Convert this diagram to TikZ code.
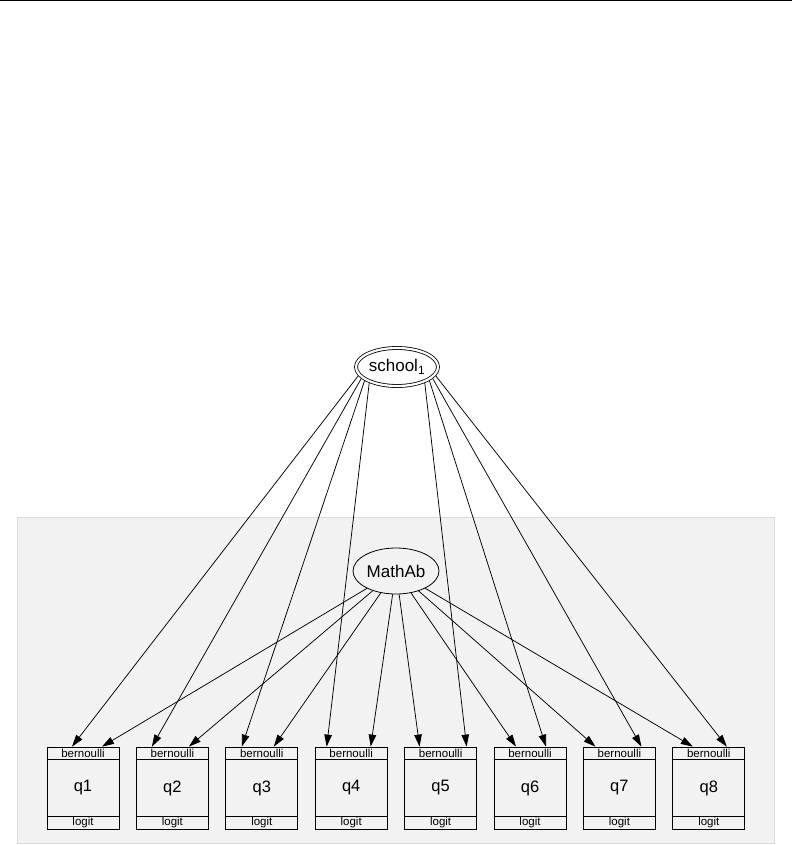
\documentclass[tikz,border=0pt]{standalone}
\usepackage{fontspec}
\setmainfont{Liberation Sans}
\usetikzlibrary{shapes.geometric,arrows.meta,calc}
\begin{document}
\begin{tikzpicture}[x=1pt,y=-1pt,
  lat/.style={ellipse,draw,inner sep=0pt,line width=0.8pt,font=\fontsize{17}{20}\selectfont},
  obs/.style={rectangle,draw,minimum width=72pt,minimum height=82pt,inner sep=0pt,line width=0.8pt,font=\fontsize{16.5}{19}\selectfont},
  tag/.style={inner sep=0pt,font=\fontsize{11.5}{13}\selectfont},
  arr/.style={-{Triangle[length=12pt,width=7.5pt]},line width=0.75pt},
  panel/.style={fill=black!5,draw=black!14,line width=0.8pt}]
\useasboundingbox (0,0) rectangle (792,845);
\draw[line width=1.5pt] (0,0.75) -- (792,0.75);
\draw[panel] (17,517) rectangle (774,843);
\node[lat,double,double distance=2.2pt,minimum width=82pt,minimum height=38pt,outer sep=2pt] (school) at (397,367) {school\textsubscript{1}};
\node[lat,minimum width=86pt,minimum height=46pt] (math) at (396,571) {MathAb};
\foreach \i/\s/\m/\a in {1/-11/19/193, 2/-20.5/16.5/198, 3/-20/12/203, 4/-24.5/19.5/210, 5/26/-21/330, 6/16/-14/337, 7/22/-24/342, 8/18/-16/347} {
  \node[obs] (q\i) at ({83+89.4*(\i-1)},788) {q\i};
  \draw[line width=0.8pt] ($(q\i.north west)+(0,13)$) -- ($(q\i.north east)+(0,13)$);
  \draw[line width=0.8pt] ($(q\i.south west)+(0,-13)$) -- ($(q\i.south east)+(0,-13)$);
  \node[tag] (b\i) at ($(q\i.north)+(0,6.5)$) {bernoulli};
  \node[tag] (l\i) at ($(q\i.south)+(0,-6.5)$) {logit};
  \coordinate (s\i) at ($(q\i.north)+(\s,0)$);
  \coordinate (m\i) at ($(q\i.north)+(\m,0)$);
  \draw[arr] (school.\a) -- (s\i);
  \draw[arr] (math) -- (m\i);
}
\end{tikzpicture}
\end{document}
